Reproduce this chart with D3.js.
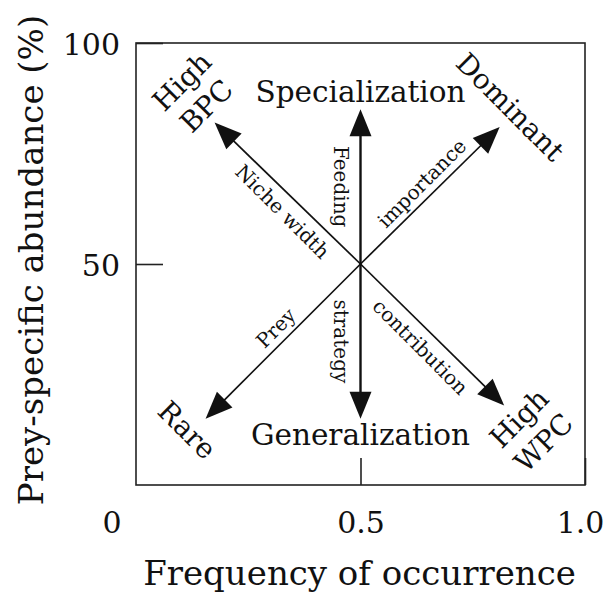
<!DOCTYPE html>
<html><head><meta charset="utf-8">
<script src="https://cdn.jsdelivr.net/npm/d3@7"></script>
<style>
body{margin:0;background:#fff}
text{font-family:"DejaVu Serif",serif;fill:#111}
</style>
</head><body>
<svg id="chart" width="613" height="594"></svg>
<script>
// ---- data ----
const xTickValues = [0.5, 1.0];
const xTickLabels = ["0.5", "1.0"];
const yTickValues = [50, 100];
const yTickLabels = ["50", "100"];
const originLabel = "0";
const xTitle = "Frequency of occurrence";
const yTitle = "Prey-specific abundance (%)";
const centerPoint = [0.5, 50];
// arrow tips (data units): up, down, up-left, up-right, down-left, down-right
const arrowTipX = [0.5, 0.5, 0.175, 0.81, 0.155, 0.82];
const arrowTipY = [85, 15, 82, 81, 15, 18];
const arrowTexts = ["Feeding", "strategy", "Niche width", "importance", "Prey", "contribution"];
const endTexts = [["Specialization"], ["Generalization"], ["High", "BPC"], ["Dominant"], ["Rare"], ["High", "WPC"]];
const endTextX = [0.5, 0.5, 0.130, 0.833, 0.1136, 0.881];
const endTextY = [88.96, 11.36, 88.5, 85.5, 12.4, 12.3];

// ---- layout ----
const W = 613, H = 594;
const margin = {left: 136, right: 28, top: 43, bottom: 109};
const midT = [0.5, 0.5, 0.455, 0.514, 0.48, 0.5];
const midOff = [19.5, 19.5, 16.6, 14.5, 14.6, 17];
const midSide = [-1, 1, -1, -1, 1, 1];
const midRot = [90, 90, 45, -45, -45, 45];
const endRot = [0, 0, -45, 45, 45, -45];
const endSize = [29.5, 29.5, 28, 28, 28, 28];

const svg = d3.select("#chart");
const x = d3.scaleLinear().domain([0, 1]).range([margin.left, W - margin.right]);
const y = d3.scaleLinear().domain([0, 100]).range([H - margin.bottom, margin.top]);

// frame
svg.append("rect")
  .attr("x", x(0)).attr("y", y(100))
  .attr("width", x(1) - x(0)).attr("height", y(0) - y(100))
  .attr("fill", "none").attr("stroke", "#222").attr("stroke-width", 1.6);

// axes (inner ticks)
const gy = svg.append("g").attr("transform", `translate(${x(0)},0)`)
  .call(d3.axisLeft(y).tickValues(yTickValues).tickSize(-27)
    .tickFormat((d, i) => yTickLabels[i]).tickPadding(16));
gy.select(".domain").remove();
gy.selectAll(".tick line").attr("stroke", "#222").attr("stroke-width", 1.6);
gy.selectAll(".tick text").attr("font-size", 30).attr("font-family", "DejaVu Serif")
  .attr("fill", "#111").attr("dy", null).attr("y", 11.5);

const gx = svg.append("g").attr("transform", `translate(0,${y(0)})`)
  .call(d3.axisBottom(x).tickValues(xTickValues).tickSize(-27)
    .tickFormat((d, i) => xTickLabels[i]).tickPadding(20));
gx.select(".domain").remove();
gx.selectAll(".tick line").attr("stroke", "#222").attr("stroke-width", 1.6);
gx.selectAll(".tick text").attr("font-size", 30).attr("font-family", "DejaVu Serif")
  .attr("fill", "#111").attr("dy", null).attr("y", 47.5)
  .attr("dx", (d) => d === 1 ? -5 : 0);

svg.append("text").attr("x", x(0) - 24).attr("y", y(0) + 47.5)
  .attr("text-anchor", "middle").attr("font-size", 30).text(originLabel);

// titles
svg.append("text").attr("x", (x(0) + x(1)) / 2 - 1).attr("y", 585)
  .attr("text-anchor", "middle").attr("font-size", 34).text(xTitle);
svg.append("text").attr("transform", `translate(43,${(y(0) + y(100)) / 2 - 4}) rotate(-90)`)
  .attr("text-anchor", "middle").attr("font-size", 34).text(yTitle);

// arrows
const cx = x(centerPoint[0]), cy = y(centerPoint[1]);
const HL = 27, HW = 11;
arrowTipX.forEach((vx, i) => {
  const tx = x(vx), ty = y(arrowTipY[i]);
  const dx = tx - cx, dy = ty - cy, L = Math.hypot(dx, dy);
  const ux = dx / L, uy = dy / L;
  const bx = tx - ux * HL, by = ty - uy * HL;
  const vertical = Math.abs(dx) < 1;
  svg.append("line")
    .attr("x1", cx).attr("y1", cy).attr("x2", bx + ux * 2).attr("y2", by + uy * 2)
    .attr("stroke", "#111").attr("stroke-width", vertical ? 2.4 : 1.7);
  svg.append("path")
    .attr("d", `M${tx},${ty}L${bx - uy * HW},${by + ux * HW}L${bx + uy * HW},${by - ux * HW}Z`)
    .attr("fill", "#111");
  // mid label
  const nx = midSide[i] * -uy, ny = midSide[i] * ux;
  const px = cx + dx * midT[i] + nx * midOff[i];
  const py = cy + dy * midT[i] + ny * midOff[i];
  svg.append("text")
    .attr("transform", `translate(${px},${py}) rotate(${midRot[i]})`)
    .attr("text-anchor", "middle").attr("dominant-baseline", "central")
    .attr("font-size", 20).text(arrowTexts[i]);
  // end label
  const g = svg.append("g")
    .attr("transform", `translate(${x(endTextX[i])},${y(endTextY[i])}) rotate(${endRot[i]})`);
  const lines = endTexts[i], lh = 34.6;
  lines.forEach((t, k) => {
    g.append("text").attr("x", 0).attr("y", (k - (lines.length - 1) / 2) * lh)
      .attr("text-anchor", "middle").attr("dominant-baseline", "central")
      .attr("font-size", endSize[i]).text(t);
  });
});
</script>
</body></html>
